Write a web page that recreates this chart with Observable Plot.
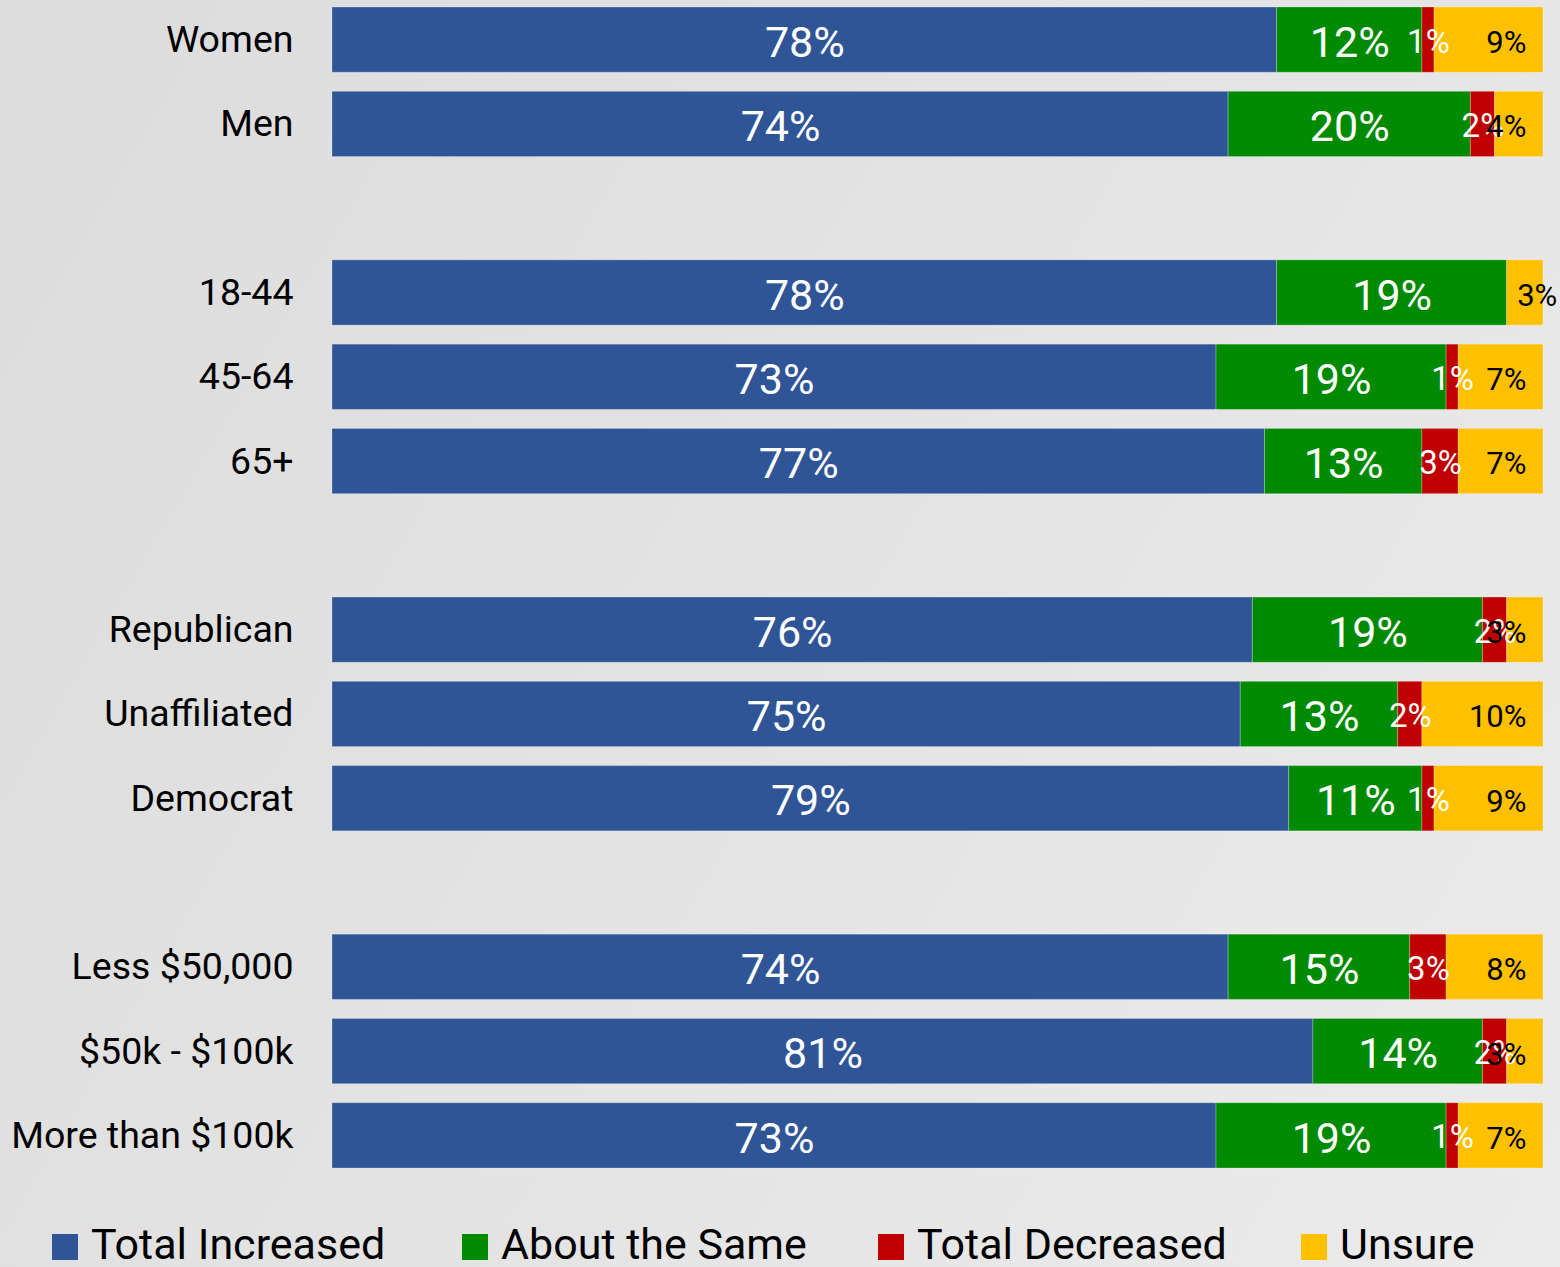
<!DOCTYPE html>
<html>
<head>
<meta charset="utf-8">
<script src="https://cdn.jsdelivr.net/npm/d3@7"></script>
<script src="https://cdn.jsdelivr.net/npm/@observablehq/plot@0.6"></script>
<style>
  html, body { margin: 0; padding: 0; }
  body {
    width: 1560px; height: 1267px; overflow: hidden;
    background: linear-gradient(120deg, #dcdcdc 0%, #e2e2e2 40%, #ebebeb 100%);
    font-family: Roboto, "Noto Sans", sans-serif;
  }
  #chart svg { display: block; background: transparent; }
  #legend { position: relative; height: 77px; }
  .item { position: absolute; top: 0; height: 77px; }
  .sw { position: absolute; left: 0; top: 44px; width: 26px; height: 26px; }
  .lbl { position: absolute; left: 39px; top: 33px; font-size: 43px; line-height: 43px; color: #000; white-space: nowrap; }
</style>
</head>
<body>
<div id="chart"></div>
<div id="legend"></div>
<script>
const categories = ["Women","Men","18-44","45-64","65+","Republican","Unaffiliated","Democrat","Less $50,000","$50k - $100k","More than $100k"];
const groupBreaks = ["Men","65+","Democrat"]; // a blank row follows each of these
const totalIncreased = [78,74,78,73,77,76,75,79,74,81,73];
const aboutTheSame   = [12,20,19,19,13,19,13,11,15,14,19];
const totalDecreased = [1,2,0,1,3,2,2,1,3,2,1];
const unsure         = [9,4,3,7,7,3,10,9,8,3,7];
const seriesNames  = ["Total Increased","About the Same","Total Decreased","Unsure"];
const seriesColors = ["#2f5597","#008a00","#c00000","#ffc000"];

// y slots including blank spacer rows
const slots = [];
categories.forEach((c) => {
  slots.push(c);
  const gi = groupBreaks.indexOf(c);
  if (gi >= 0) slots.push("gap" + gi);
});

const seriesValues = [totalIncreased, aboutTheSame, totalDecreased, unsure];
const rows = [];
categories.forEach((c, i) => {
  let acc = 0;
  seriesValues.forEach((vals, s) => {
    const v = vals[i];
    rows.push({cat: c, series: seriesNames[s], s, value: v, x1: acc, x2: acc + v, mid: acc + v / 2, noRed: totalDecreased[i] === 0});
    acc += v;
  });
});
const bars = rows.filter(d => d.value > 0);
const big = bars.filter(d => d.s <= 1);
const red = bars.filter(d => d.s === 2);
const yelEnd = bars.filter(d => d.s === 3 && !d.noRed);
const yelStart = bars.filter(d => d.s === 3 && d.noRed);
const fmt = d => d.value + "%";

const chart = Plot.plot({
  width: 1560,
  height: 1190,
  marginLeft: 332,
  marginRight: 17,
  marginTop: 7,
  marginBottom: 22,
  style: {fontFamily: "Roboto, sans-serif", background: "transparent", overflow: "visible"},
  x: {domain: [0, 100], axis: null},
  y: {domain: slots, paddingInner: 0.226, paddingOuter: 0, round: false, axis: null},
  color: {domain: seriesNames, range: seriesColors},
  marks: [
    Plot.barX(bars, {y: "cat", x1: "x1", x2: "x2", fill: "series", stroke: "#ffffff", strokeOpacity: 0.25, strokeWidth: 1}),
    Plot.axisY({tickSize: 0, tickPadding: 39, fontSize: 37.5, fill: "#000", tickFormat: d => d.startsWith("gap") ? "" : d, label: null}),
    Plot.text(big, {y: "cat", x: "mid", text: fmt, fill: "white", fontSize: 43, dy: 3}),
    Plot.text(red, {y: "cat", x: "mid", text: fmt, fill: "white", fontSize: 33, dy: 2}),
    Plot.text(yelEnd, {y: "cat", x: "x2", text: fmt, fill: "black", fontSize: 31, textAnchor: "end", dx: -17, dy: 3}),
    Plot.text(yelStart, {y: "cat", x: "x1", text: fmt, fill: "black", fontSize: 31, textAnchor: "start", dx: 10, dy: 3})
  ]
});
document.getElementById("chart").appendChild(chart);

const legendLefts = [52, 462, 878, 1301];
const legend = document.getElementById("legend");
seriesNames.forEach((n, i) => {
  const it = document.createElement("div");
  it.className = "item";
  it.style.left = legendLefts[i] + "px";
  it.innerHTML = `<span class="sw" style="background:${seriesColors[i]}"></span><span class="lbl">${n}</span>`;
  legend.appendChild(it);
});
</script>
</body>
</html>
